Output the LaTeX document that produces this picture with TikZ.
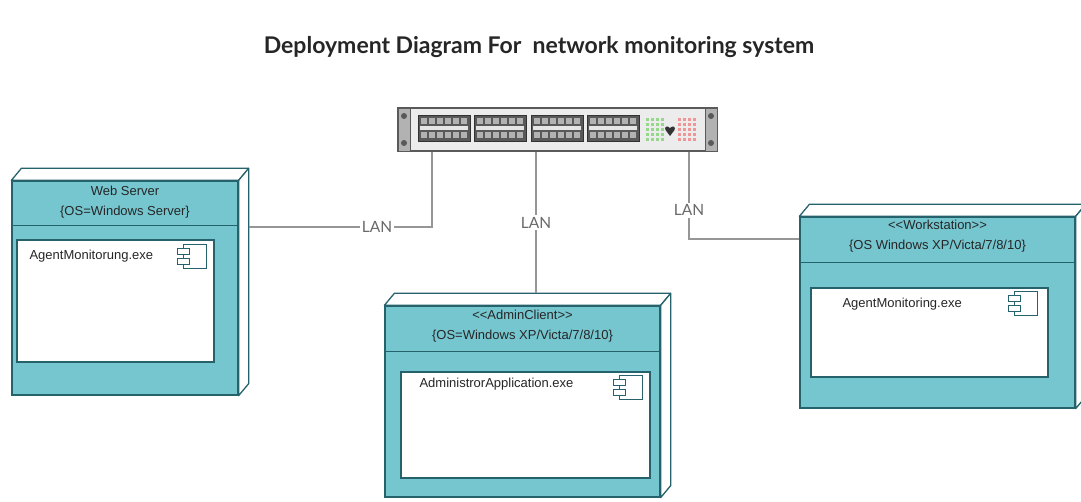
\documentclass[tikz,border=0pt]{standalone}
\usepackage{fontspec}
\setmainfont{Liberation Sans}
\newfontfamily\latofont{Lato}
\usetikzlibrary{calc}
\definecolor{nodefill}{RGB}{118,198,208}
\definecolor{nodeline}{RGB}{38,98,108}
\definecolor{linkgray}{RGB}{150,150,150}
\definecolor{lantext}{RGB}{105,105,105}
\definecolor{swbody}{RGB}{236,236,236}
\definecolor{swedge}{RGB}{90,90,90}
\definecolor{ledgreen}{RGB}{150,215,140}
\definecolor{ledred}{RGB}{240,150,150}

\begin{document}
\begin{tikzpicture}[
    x=1pt, y=-1pt,
    title/.style={font=\latofont\bfseries\fontsize{23}{27}\selectfont, text=black!85},
    front/.style={draw=nodeline, fill=nodefill, line width=1.3pt, inner sep=0pt},
    face/.style={draw=nodeline, fill=white, line width=1.3pt, line join=round},
    inbox/.style={draw=nodeline, fill=white, line width=1.3pt, inner sep=0pt},
    head/.style={font=\fontsize{13}{15}\selectfont, text=black!85},
    art/.style={font=\fontsize{13}{15}\selectfont, anchor=west, text=black!85, inner sep=0pt},
    link/.style={draw=linkgray, line width=1.1pt},
    lan/.style={font=\latofont\fontsize{15.5}{18}\selectfont, text=lantext, fill=white, inner sep=2pt},
    cmp/.pic={
      \draw[nodeline, fill=white, line width=0.9pt] (6,0) rectangle (29,24);
      \draw[nodeline, fill=white, line width=0.9pt] (0,4) rectangle (12,10);
      \draw[nodeline, fill=white, line width=0.9pt] (0,14) rectangle (12,20);
    },
  ]

  \def\dx{10}
  \def\dy{-12}
  \def\lt{\textless\kern0pt\textless}
  \def\gt{\textgreater\kern0pt\textgreater}

  \path[use as bounding box, fill=white] (0,0) rectangle (1081,502);

  \node[title] (ttl) at (539,47) {Deployment Diagram For\ \ network monitoring system};

  % switch
  \node[draw=swedge, fill=swbody, line width=1.2pt, minimum width=319pt,
        minimum height=43pt, inner sep=0pt] (sw) at (557.5,129.5) {};
  \foreach \ex in {398,705} {
    \draw[swedge, fill=black!30, line width=0.8pt] (\ex,108) rectangle ++(12,43);
    \fill[black!65] (\ex+6,116) circle (3);
    \fill[black!65] (\ex+6,143) circle (3);
  }
  \foreach \bx in {418,474,531,587} {
    \draw[black!80, fill=black!65, line width=0.8pt] (\bx,115) rectangle ++(52,26);
    \fill[black!10] (\bx+2,126) rectangle ++(48,4);
    \foreach \k in {0,...,5} {
      \fill[black!30] (\bx+3+\k*8,118) rectangle ++(6,6);
      \fill[black!30] (\bx+3+\k*8,132) rectangle ++(6,6);
    }
  }
  \foreach \r in {0,...,4}
    \foreach \c in {0,...,3} {
      \fill[ledgreen] (646+\c*5,118+\r*5) rectangle ++(3,3);
      \fill[ledred] (678+\c*5,118+\r*5) rectangle ++(3,3);
    }
  \fill[black!80] (670,136) -- (665.5,130) .. controls (664,127) and (667,125) .. (670,128)
    .. controls (673,125) and (676,127) .. (674.5,130) -- cycle;

  % web server
  \node[front, minimum width=226pt, minimum height=214pt] (web) at (125,288) {};
  \draw[face] (web.north west) -- ++(\dx,\dy) -- ($(web.north east)+(\dx,\dy)$) -- (web.north east) -- cycle;
  \draw[face] (web.north east) -- ++(\dx,\dy) -- ($(web.south east)+(\dx,\dy)$) -- (web.south east) -- cycle;
  \draw[nodeline, line width=1.3pt] ($(web.north west)+(0,45)$) -- ($(web.north east)+(0,45)$);
  \node[head] (webst) at ($(web.north)+(0,11)$) {Web Server};
  \node[head] (webos) at ($(web.north)+(0,32)$) {\{OS=Windows Server\}};
  \node[inbox, minimum width=197pt, minimum height=122pt] (webart) at (115.5,301) {};
  \node[art] (webexe) at ($(webart.north west)+(13,17)$) {AgentMonitorung.exe};
  \pic at ($(webart.north east)+(-37,5)$) {cmp};

  % admin client
  \node[front, minimum width=275pt, minimum height=191pt] (admin) at (522.5,401.5) {};
  \draw[face] (admin.north west) -- ++(\dx,\dy) -- ($(admin.north east)+(\dx,\dy)$) -- (admin.north east) -- cycle;
  \draw[face] (admin.north east) -- ++(\dx,\dy) -- ($(admin.south east)+(\dx,\dy)$) -- (admin.south east) -- cycle;
  \draw[nodeline, line width=1.3pt] ($(admin.north west)+(0,46)$) -- ($(admin.north east)+(0,46)$);
  \node[head] (admst) at ($(admin.north)+(0,10)$) {\lt AdminClient\gt};
  \node[head] (admos) at ($(admin.north)+(0,31)$) {\{OS=Windows XP/Victa/7/8/10\}};
  \node[inbox, minimum width=249pt, minimum height=106pt] (admart) at (525.5,425) {};
  \node[art] (admexe) at ($(admart.north west)+(19,13)$) {AdministrorApplication.exe};
  \pic at ($(admart.north east)+(-37,4)$) {cmp};

  % workstation
  \node[front, minimum width=275pt, minimum height=191pt] (ws) at (937.5,312.5) {};
  \draw[face] (ws.north west) -- ++(\dx,\dy) -- ($(ws.north east)+(\dx,\dy)$) -- (ws.north east) -- cycle;
  \draw[face] (ws.north east) -- ++(\dx,\dy) -- ($(ws.south east)+(\dx,\dy)$) -- (ws.south east) -- cycle;
  \draw[nodeline, line width=1.3pt] ($(ws.north west)+(0,46)$) -- ($(ws.north east)+(0,46)$);
  \node[head] (wsst) at ($(ws.north)+(0,9)$) {\lt Workstation\gt};
  \node[head] (wsos) at ($(ws.north)+(0,30)$) {\{OS Windows XP/Victa/7/8/10\}};
  \node[inbox, minimum width=237pt, minimum height=89pt] (wsart) at (929.5,332.5) {};
  \node[art] (wsexe) at ($(wsart.north west)+(32,17)$) {AgentMonitoring.exe};
  \pic at ($(wsart.north east)+(-40,4)$) {cmp};

  % LAN links
  \coordinate (bendw) at (432,227);
  \coordinate (tapa) at (536,0);
  \coordinate (bends) at (689,239);
  \draw[link] (sw.south -| bendw) -- (bendw)
    -- node[lan, pos=0.3] (lanw) {LAN} ($(web.east |- bendw)+(\dx,0)$);
  \draw[link] (sw.south -| tapa)
    -- node[lan] (lana) {LAN} ($(admin.north -| tapa)+(0,\dy)$);
  \draw[link] (sw.south -| bends) -- node[lan, pos=0.67] (lans) {LAN} (bends)
    -- (ws.west |- bends);

\end{tikzpicture}
\end{document}
